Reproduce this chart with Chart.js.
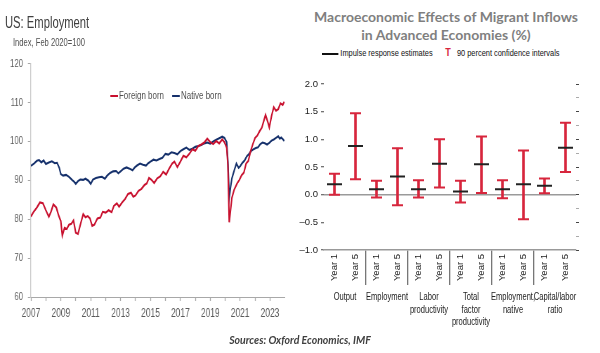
<!DOCTYPE html>
<html>
<head>
<meta charset="utf-8">
<script src="https://cdn.jsdelivr.net/npm/chart.js@4.4.1/dist/chart.umd.min.js"></script>
<style>
  html, body { margin: 0; padding: 0; background: #fff; }
  body { width: 600px; height: 353px; position: relative; overflow: hidden; font-family: 'Liberation Sans', Arial, sans-serif; }
  .abs { position: absolute; white-space: nowrap; }
  /* left panel is drawn in a wider box and condensed horizontally, like the reference */
  #left { position: absolute; left: 0; top: 0; width: 420px; height: 335px; transform: scaleX(0.7024); transform-origin: 0 0; }
  #lt { left: 7px; top: 14px; font-size: 16px; color: #404040; }
  #ls { left: 18.5px; top: 36px; font-size: 10.8px; color: #505050; }
  .lk { position: absolute; height: 2px; top: 95px; }
  .lx { position: absolute; top: 89px; font-size: 11.3px; color: #505050; white-space: nowrap; }
  #rt { left: 296px; top: 8px; width: 300px; text-align: center; font-family: Lato, sans-serif; font-weight: bold; font-size: 14px; line-height: 18px; color: #7f7f7f; }
  #rleg { position: absolute; left: 321.7px; top: 47px; width: 320px; height: 14px; transform: scaleX(0.78); transform-origin: 0 0; font-size: 9.5px; color: #111; }
  #rleg span { position: absolute; white-space: nowrap; }
  #src { left: 0; width: 600px; top: 334px; text-align: center; font-family: Lato, sans-serif; font-style: italic; font-weight: bold; font-size: 10.5px; color: #404040; }
  canvas { position: absolute; }
</style>
</head>
<body>
<div id="left">
  <div id="lt" class="abs">US: Employment</div>
  <div id="ls" class="abs">Index, Feb 2020=100</div>
  <div class="lk" style="left:156.6px;width:11.4px;background:#C8102E"></div>
  <div class="lx" style="left:169.4px">Foreign born</div>
  <div class="lk" style="left:244.9px;width:11.4px;background:#15306B"></div>
  <div class="lx" style="left:257.7px">Native born</div>
  <canvas id="c1" width="420" height="280" style="left:0;top:50px;width:420px;height:280px"></canvas>
</div>
<div id="rt" class="abs">Macroeconomic Effects of Migrant Inflows<br>in Advanced Economies (%)</div>
<div id="rleg">
  <span style="left:0;top:6px;width:21.3px;height:1.5px;background:#111"></span>
  <span style="left:23.5px;top:0">Impulse response estimates</span>
  <span style="left:158px;top:-1px;color:#D7263D;font-weight:bold;font-size:11.5px">T</span>
  <span style="left:173px;top:0">90 percent confidence intervals</span>
</div>
<div id="src" class="abs">Sources: Oxford Economics, IMF</div>

<canvas id="c2" width="305" height="262" style="left:295px;top:70px;width:305px;height:262px"></canvas>

<script>
// ---------- Left chart data: US employment index (Feb 2020 = 100) ----------
const yearTicks = [2007,2008,2009,2010,2011,2012,2013,2014,2015,2016,2017,2018,2019,2020,2021,2022,2023];

const foreignT = [2007.0,2007.2,2007.4,2007.6,2007.8,2008.0,2008.2,2008.35,2008.5,2008.7,2008.85,2009.0,2009.1,2009.25,2009.4,2009.55,2009.7,2009.85,2010.0,2010.15,2010.3,2010.5,2010.65,2010.8,2010.95,2011.1,2011.25,2011.45,2011.65,2011.8,2012.0,2012.2,2012.4,2012.55,2012.75,2012.9,2013.1,2013.3,2013.5,2013.7,2013.85,2014.0,2014.2,2014.4,2014.6,2014.75,2014.9,2015.05,2015.25,2015.45,2015.65,2015.85,2016.05,2016.25,2016.45,2016.6,2016.8,2017.0,2017.2,2017.4,2017.6,2017.8,2018.0,2018.2,2018.4,2018.6,2018.8,2019.0,2019.2,2019.4,2019.6,2019.8,2019.95,2020.1,2020.18,2020.27,2020.35,2020.45,2020.6,2020.8,2020.95,2021.1,2021.25,2021.4,2021.55,2021.7,2021.85,2022.0,2022.15,2022.3,2022.45,2022.6,2022.7,2022.85,2022.95,2023.1,2023.25,2023.4,2023.55,2023.7,2023.85,2023.95];
const foreignV = [80.7,82.0,83.0,84.3,84.1,82.3,80.6,82.0,83.8,83.0,81.0,79.5,75.8,77.8,77.5,78.6,78.8,79.7,76.5,76.2,78.5,81.3,80.5,80.8,80.2,78.3,78.6,80.2,80.4,81.9,81.7,82.3,81.8,83.4,84.1,83.2,84.3,85.2,86.5,86.8,85.8,86.1,87.3,87.8,88.8,89.2,90.6,90.2,89.3,90.5,91.0,92.2,91.5,93.0,94.3,94.8,93.4,94.8,96.3,95.9,96.8,98.0,97.6,98.8,99.2,99.7,100.7,99.8,99.3,100.1,99.5,100.5,99.8,98.4,94.0,79.2,82.0,85.5,87.6,89.2,90.1,91.3,92.0,94.3,95.0,97.5,99.3,100.9,101.5,102.6,103.5,105.5,106.8,105.0,103.6,106.5,108.8,107.9,108.3,109.8,109.4,110.2];

const nativeT = [2007.0,2007.2,2007.4,2007.55,2007.7,2007.85,2008.0,2008.2,2008.4,2008.6,2008.75,2008.9,2009.0,2009.15,2009.35,2009.55,2009.75,2009.9,2010.0,2010.15,2010.3,2010.5,2010.65,2010.85,2011.0,2011.15,2011.35,2011.55,2011.75,2011.95,2012.1,2012.3,2012.5,2012.7,2012.85,2013.0,2013.2,2013.4,2013.6,2013.8,2013.95,2014.1,2014.3,2014.5,2014.7,2014.85,2015.0,2015.2,2015.4,2015.6,2015.8,2016.0,2016.2,2016.4,2016.6,2016.8,2017.0,2017.2,2017.4,2017.6,2017.8,2018.0,2018.2,2018.4,2018.6,2018.8,2019.0,2019.2,2019.4,2019.6,2019.8,2019.95,2020.1,2020.18,2020.27,2020.35,2020.45,2020.6,2020.75,2020.9,2021.0,2021.15,2021.3,2021.45,2021.6,2021.75,2021.9,2022.05,2022.2,2022.35,2022.5,2022.65,2022.8,2022.95,2023.1,2023.25,2023.4,2023.55,2023.65,2023.75,2023.85,2023.95];
const nativeV = [93.7,94.3,95.0,95.2,94.6,95.1,94.2,94.6,94.9,94.4,94.5,93.2,91.6,91.2,91.4,90.9,90.1,89.6,89.1,89.8,90.2,90.1,90.4,89.9,89.1,90.2,90.6,90.8,90.9,90.4,91.2,91.9,92.3,92.4,91.8,92.3,93.0,93.3,93.0,92.6,93.3,93.8,94.3,94.0,93.8,94.4,94.8,95.3,95.1,95.5,95.8,96.8,96.6,97.2,97.0,96.7,97.5,98.0,98.4,97.8,98.1,98.6,98.8,99.1,99.5,99.7,99.4,100.0,100.4,100.8,101.2,100.9,99.8,95.0,85.5,88.0,90.5,92.5,94.3,93.2,93.6,94.5,95.1,96.2,96.8,97.6,98.0,98.3,98.5,99.3,99.7,99.5,99.2,99.6,100.2,100.5,100.9,101.3,100.7,101.0,100.6,100.1];

// ---------- Right chart data: IMF impulse responses ----------
const yearLabels = ['Year 1','Year 5','Year 1','Year 5','Year 1','Year 5','Year 1','Year 5','Year 1','Year 5','Year 1','Year 5'];
const groupLabels = ['Output','Employment',['Labor','productivity'],['Total','factor','productivity'],['Employment,','native'],['Capital/labor','ratio']];
const estimates = [0.19,0.88,0.10,0.33,0.10,0.56,0.055,0.55,0.10,0.19,0.16,0.85];
const ciHigh    = [0.38,1.47,0.25,0.84,0.26,1.00,0.25,1.05,0.26,0.80,0.29,1.30];
const ciLow     = [0.00,0.28,-0.05,-0.19,-0.05,0.13,-0.14,0.03,-0.065,-0.445,0.025,0.41];

const SANS = "'Liberation Sans', Arial, sans-serif";
const RED = '#D7263D';

// ---------- Left chart ----------
new Chart(document.getElementById('c1'), {
  type: 'line',
  data: {
    datasets: [
      { label: 'Foreign born', data: foreignT.map((t,i)=>({x:t,y:foreignV[i]})), borderColor: '#C8102E', borderWidth: 2.1, pointRadius: 0, tension: 0 },
      { label: 'Native born', data: nativeT.map((t,i)=>({x:t,y:nativeV[i]})), borderColor: '#15306B', borderWidth: 2.1, pointRadius: 0, tension: 0 }
    ]
  },
  options: {
    responsive: false, animation: false, events: [],
    layout: { padding: { top: 7, right: 14.3, left: 0, bottom: 0 } },
    plugins: { legend: { display: false }, tooltip: { enabled: false } },
    scales: {
      x: {
        type: 'linear', min: 2007, max: 2024,
        afterBuildTicks: s => { s.ticks = yearTicks.map(v=>({value:v})); },
        afterFit: s => { s.height = 33; },
        grid: { drawOnChartArea: false, tickLength: 4, tickColor: '#a8a8a8', tickWidth: 1.3 },
        border: { color: '#a8a8a8' },
        ticks: { padding: 5, maxRotation: 0, autoSkip: false, color: '#5a5a5a', font: { family: SANS, size: 12 },
                 callback: v => (v % 2 === 1 ? String(v) : '') }
      },
      y: {
        min: 60, max: 120,
        afterFit: s => { s.width = 44; },
        grid: { drawOnChartArea: false, tickLength: 4.3, tickColor: '#a8a8a8' },
        border: { color: '#c8c8c8', width: 1.3 },
        ticks: { stepSize: 10, padding: 7, color: '#5a5a5a', font: { family: SANS, size: 11 } }
      }
    }
  }
});

// ---------- Right chart ----------
const isMajor = v => Math.abs(v*2 - Math.round(v*2)) < 1e-6;
const fmt = v => (v < 0 ? '\u2013' : '') + Math.abs(v).toFixed(1);

// group captions under the Year 1 / Year 5 pairs, placed from the x scale
const groupLabelPlugin = {
  id: 'groupLabels',
  afterDraw(chart) {
    const { ctx, chartArea, scales: { x } } = chart;
    ctx.save();
    ctx.fillStyle = '#222';
    ctx.font = '10.5px ' + SANS;
    ctx.textAlign = 'center';
    ctx.textBaseline = 'middle';
    groupLabels.forEach((lab, g) => {
      const lines = Array.isArray(lab) ? lab : [lab];
      const cx = (x.getPixelForTick(2*g) + x.getPixelForTick(2*g + 1)) / 2;
      lines.forEach((ln, k) => {
        ctx.save();
        ctx.translate(cx, chartArea.bottom + 47.5 + k * 12.3);
        ctx.scale(0.72, 1);
        ctx.fillText(ln, 0, 0);
        ctx.restore();
      });
    });
    ctx.restore();
  }
};

new Chart(document.getElementById('c2'), {
  type: 'bar',
  data: {
    labels: yearLabels,
    datasets: [
      { type: 'line', label: 'Impulse response estimates', data: estimates, showLine: false, order: 0,
        pointStyle: 'line', pointRadius: 7.5, pointBorderWidth: 2, pointBorderColor: '#222', pointBackgroundColor: '#222' },
      { type: 'line', label: 'CI high', data: ciHigh, showLine: false, order: 1,
        pointStyle: 'line', pointRadius: 5.5, pointBorderWidth: 2, pointBorderColor: RED, pointBackgroundColor: RED },
      { type: 'line', label: 'CI low', data: ciLow, showLine: false, order: 1,
        pointStyle: 'line', pointRadius: 5.5, pointBorderWidth: 2, pointBorderColor: RED, pointBackgroundColor: RED },
      { type: 'bar', label: '90 percent confidence intervals', data: ciLow.map((l,i)=>[l, ciHigh[i]]), order: 2,
        backgroundColor: RED, borderWidth: 0, barThickness: 2 }
    ]
  },
  plugins: [groupLabelPlugin],
  options: {
    responsive: false, animation: false, events: [],
    layout: { padding: { top: 14, right: 0, left: 0, bottom: 45 } },
    plugins: { legend: { display: false }, tooltip: { enabled: false } },
    scales: {
      x: {
        type: 'category', offset: true,
        afterFit: s => { s.height = 37; },
        grid: { offset: true, drawOnChartArea: false, tickLength: 35, lineWidth: 1.3,
                color: c => (c.index !== undefined && c.index > 0 && c.index % 2 === 0 ? '#777' : 'rgba(0,0,0,0)') },
        border: { display: true, color: '#999', width: 1.5 },
        ticks: { autoSkip: false, minRotation: 90, maxRotation: 90, padding: -31, color: '#222', font: { family: SANS, size: 9.5 } }
      },
      y: {
        min: -1, max: 2,
        afterFit: s => { s.width = 29; },
        grid: { drawOnChartArea: true, tickLength: 3, lineWidth: 1.5,
                color: c => (c.tick && Math.abs(c.tick.value) < 1e-9 ? '#9a9a9a' : 'rgba(0,0,0,0)'),
                tickColor: c => (c.tick && isMajor(c.tick.value) ? '#444' : '#aaa'),
                tickWidth: 1 },
        border: { display: false },
        ticks: { stepSize: 0.25, padding: 3, color: '#222', font: { family: SANS, size: 9.5 },
                 callback: v => (isMajor(v) ? fmt(v) : '') }
      },
      y2: {
        position: 'right', min: -1, max: 2,
        afterFit: s => { s.width = 24; },
        grid: { drawOnChartArea: false, tickLength: 3,
                tickColor: c => (c.tick && isMajor(c.tick.value) ? '#444' : '#aaa') },
        border: { display: false },
        ticks: { stepSize: 0.25, display: false }
      }
    }
  }
});
</script>
</body>
</html>
